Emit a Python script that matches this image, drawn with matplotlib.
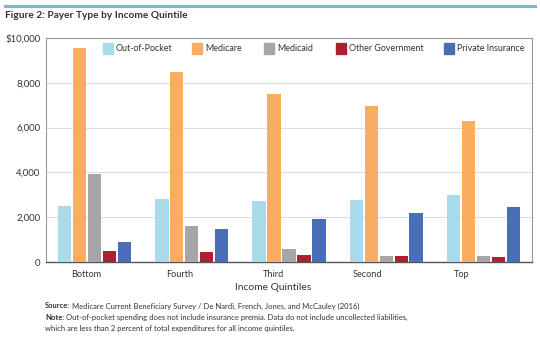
import matplotlib
matplotlib.use("Agg")
import matplotlib.pyplot as plt
import numpy as np
from matplotlib.lines import Line2D
from matplotlib.patches import Rectangle

plt.rcParams['font.family'] = ['Lato', 'DejaVu Sans']

quintiles = ["Bottom", "Fourth", "Third", "Second", "Top"]
series_names = ["Out-of-Pocket", "Medicare", "Medicaid", "Other Government", "Private Insurance"]
out_of_pocket = [2500, 2800, 2720, 2770, 3000]
medicare = [9540, 8500, 7500, 6970, 6310]
medicaid = [3930, 1600, 580, 250, 270]
other_gov = [500, 460, 310, 250, 210]
private_ins = [880, 1460, 1920, 2190, 2450]
yticks = [0, 2000, 4000, 6000, 8000, 10000]
ytick_labels = ["0", "2,000", "4,000", "6,000", "8,000", "$10,000"]

colors = ["#a9dbea", "#f9ad60", "#a6a6a6", "#b01f2f", "#4a6db7"]
series = [out_of_pocket, medicare, medicaid, other_gov, private_ins]
legend_x_px = [103, 192, 264, 336, 444]

W, H = 540, 338
fig = plt.figure(figsize=(5.4, 3.38), dpi=100)
ax = fig.add_axes([46/W, 1-262/H, (532-46)/W, (262-38)/H])

x = np.arange(len(quintiles))
pitch = 0.154
width = 0.137
for i, (vals, c, name) in enumerate(zip(series, colors, series_names)):
    ax.bar(x + (i-2)*pitch, vals, width, color=c, label=name, zorder=3)

ax.set_xlim(-0.5, 4.5)
ax.set_ylim(0, 10000)
ax.set_yticks(yticks)
ax.set_yticklabels(ytick_labels, fontsize=6.9, color="#333333")
# labels in the reference sit slightly left of the group centres
ax.set_xticks(x * 0.967 - 0.09)
ax.set_xticklabels(quintiles, fontsize=6.6, color="#333333")
ax.tick_params(axis='both', length=0, pad=4)
ax.tick_params(axis='x', pad=6)
ax.grid(axis='y', color="#dddddd", linewidth=0.8, zorder=0)
for s in ['left', 'right', 'top']:
    ax.spines[s].set_color("#999999")
    ax.spines[s].set_linewidth(0.8)
ax.spines['bottom'].set_color("#555555")
ax.spines['bottom'].set_linewidth(1.0)
ax.set_xlabel("Income Quintiles", fontsize=7.4, color="#333333", labelpad=4)
ax.xaxis.set_label_coords((273-46)/(532-46), -(287-262)/(262-38))
ax.xaxis.label.set_va('center')

# manual legend
for name, c, lx in zip(series_names, colors, legend_x_px):
    fig.add_artist(Rectangle((lx/W, 1-53.5/H), 10/W, 10/H, color=c, transform=fig.transFigure))
    fig.text((lx+13)/W, 1-48.5/H, name, fontsize=6.4, color="#333333", va='center', ha='left')

# top decorative line
fig.add_artist(Line2D([5/W, 535/W], [1-6/H, 1-6/H], color="#7fb6cc", linewidth=2.2,
                      transform=fig.transFigure))
fig.text(5/W, 1-15/H, "Figure 2: Payer Type by Income Quintile", fontsize=7.3,
         fontweight='bold', color="#333333", va='center', ha='left')

fs = 5.5
src = fig.text(45/W, 1-306/H, "Source:", fontsize=fs, fontweight='bold', color="#333333",
               va='center', ha='left')
ax.annotate(" Medicare Current Beneficiary Survey / De Nardi, French, Jones, and McCauley (2016)",
            xy=(1, 0.5), xycoords=src, fontsize=fs, color="#333333", va='center', ha='left',
            annotation_clip=False)
note = fig.text(45/W, 1-317/H, "Note:", fontsize=fs, fontweight='bold', color="#333333",
                va='center', ha='left')
ax.annotate(" Out-of-pocket spending does not include insurance premia. Data do not include uncollected liabilities,",
            xy=(1, 0.5), xycoords=note, fontsize=fs, color="#333333", va='center', ha='left',
            annotation_clip=False)
fig.text(45/W, 1-329/H, "which are less than 2 percent of total expenditures for all income quintiles.",
         fontsize=fs, color="#333333", va='center', ha='left')

fig.savefig("out.png", dpi=100)
